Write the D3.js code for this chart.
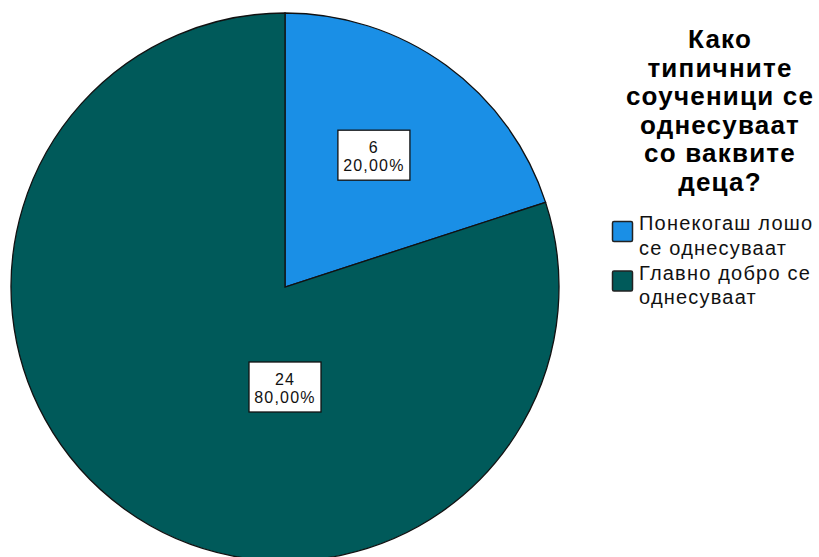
<!DOCTYPE html>
<html>
<head>
<meta charset="utf-8">
<script src="https://cdn.jsdelivr.net/npm/d3@7"></script>
<style>
  html, body { margin: 0; padding: 0; background: #fff; }
  svg { display: block; }
</style>
</head>
<body>
<svg id="chart" width="819" height="557"></svg>
<script>
// Responses to the survey question
const categories = ["Понекогаш лошо се однесуваат", "Главно добро се однесуваат"];
const legendLines = [["Понекогаш лошо", "се однесуваат"], ["Главно добро се", "однесуваат"]];
const counts = [6, 24];
const percentLabels = ["20,00%", "80,00%"];
const colors = ["#1a8fe6", "#005a5a"];
const titleLines = ["Како", "типичните", "соученици се", "однесуваат", "со ваквите", "деца?"];

const svg = d3.select("#chart");

// Pie geometry
const cx = 285, cy = 287, R = 274;
const pie = d3.pie().sort(null).value(d => d)(counts);
const arc = d3.arc().innerRadius(0).outerRadius(R);

const g = svg.append("g").attr("transform", `translate(${cx},${cy})`);
g.selectAll("path.slice")
  .data(pie)
  .join("path")
  .attr("class", "slice")
  .attr("d", arc)
  .attr("fill", (d, i) => colors[i])
  .attr("stroke", "#111")
  .attr("stroke-width", 1.3);

// Label anchors: radius and angle (degrees, clockwise from top) for each slice
const labelAnchor = [
  { r: 159, a: 34 },
  { r: 100, a: 180 }
];
const labelFont = "'Liberation Sans', Arial, sans-serif";
const boxW = 72, boxH = 50;
const labels = g.selectAll("g.lbl")
  .data(pie)
  .join("g")
  .attr("class", "lbl")
  .attr("transform", (d, i) => {
    const a = labelAnchor[i].a * Math.PI / 180;
    const x = labelAnchor[i].r * Math.sin(a);
    const y = -labelAnchor[i].r * Math.cos(a);
    return `translate(${x},${y})`;
  });
labels.append("rect")
  .attr("x", -boxW / 2).attr("y", -boxH / 2)
  .attr("width", boxW).attr("height", boxH)
  .attr("fill", "#fff").attr("stroke", "#111").attr("stroke-width", 1.3);
labels.append("text")
  .attr("text-anchor", "middle")
  .attr("font-family", labelFont)
  .attr("font-size", 16)
  .attr("letter-spacing", 1.2)
  .attr("fill", "#111")
  .selectAll("tspan")
  .data((d, i) => [String(counts[i]), percentLabels[i]])
  .join("tspan")
  .attr("x", 0)
  .attr("y", (d, j) => j === 0 ? -2 : 16)
  .text(d => d);

// Title
const title = svg.append("text")
  .attr("text-anchor", "middle")
  .attr("font-family", labelFont)
  .attr("font-weight", "bold")
  .attr("font-size", 26)
  .attr("letter-spacing", 1.2)
  .attr("fill", "#000");
title.selectAll("tspan")
  .data(titleLines)
  .join("tspan")
  .attr("x", 720)
  .attr("y", (d, i) => 48 + i * 28.6)
  .text(d => d);

// Legend
const legend = svg.append("g");
const items = legend.selectAll("g.item")
  .data(categories)
  .join("g")
  .attr("class", "item")
  .attr("transform", (d, i) => `translate(612,${221 + i * 49.5})`);
items.append("rect")
  .attr("x", 0.5).attr("y", 0.5)
  .attr("width", 20).attr("height", 20)
  .attr("rx", 1.5)
  .attr("fill", (d, i) => colors[i])
  .attr("stroke", "#222").attr("stroke-width", 1.5);
items.append("text")
  .attr("font-family", labelFont)
  .attr("font-size", 20)
  .attr("letter-spacing", 1.2)
  .attr("fill", "#111")
  .selectAll("tspan")
  .data((d, i) => legendLines[i])
  .join("tspan")
  .attr("x", 27)
  .attr("y", (d, j) => 9 + j * 24.5)
  .text(d => d);
</script>
</body>
</html>
